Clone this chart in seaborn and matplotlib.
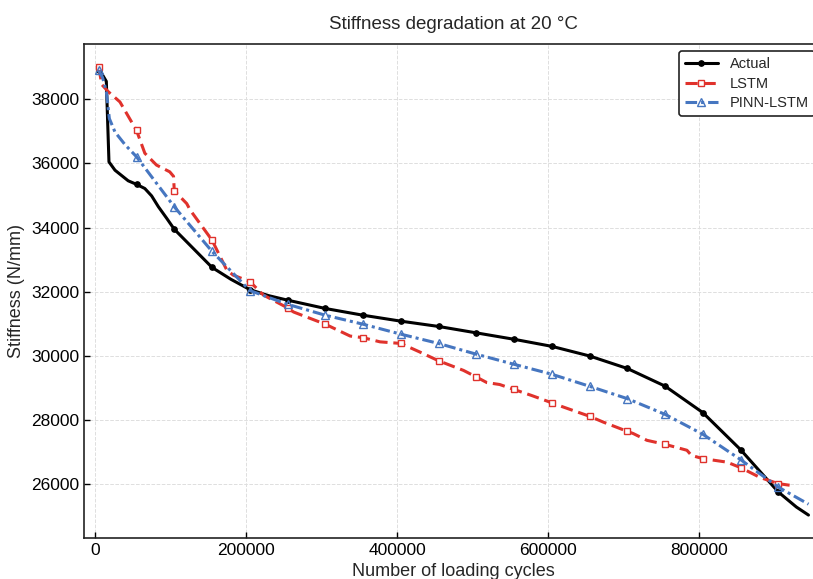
import numpy as np
import pandas as pd
import matplotlib
matplotlib.use("Agg")
import matplotlib.pyplot as plt
import seaborn as sns

# ---- data ----
x_actual = [5000, 10000, 15000, 18500, 26500, 44000, 55000, 66000, 75000, 84000,
            95000, 105000, 155000, 180000, 205000, 230000, 255000, 305000, 355000,
            405000, 455000, 505000, 555000, 605000, 655000, 705000, 755000, 805000,
            855000, 905000, 929000, 945000]
y_actual = [38900, 38760, 38560, 36050, 35790, 35460, 35350, 35220, 34990, 34650,
            34290, 33950, 32760, 32390, 32070, 31880, 31740, 31480, 31270,
            31085, 30920, 30720, 30520, 30300, 30000, 29610, 29060, 28235,
            27080, 25760, 25290, 25040]

x_lstm = [5000, 9000, 17500, 33000, 55000, 66000, 81500, 99000, 104000, 105000,
          121500, 126000, 155000, 174500, 183000, 205000, 223000, 255000, 263000,
          305000, 338000, 355000, 377500, 405000, 430000, 455000, 488000, 505000,
          519000, 536000, 555000, 578000, 605000, 620000, 655000, 673000, 705000,
          713000, 731000, 755000, 784000, 790000, 805000, 837000, 855000, 881000,
          905000, 920000]
y_lstm = [39000, 38460, 38240, 37920, 37030, 36320, 35950, 35740, 35600, 35150,
          34750, 34550, 33610, 32680, 32520, 32320, 31900, 31500, 31370,
          30990, 30620, 30570, 30440, 30390, 30125, 29850, 29550, 29345,
          29170, 29110, 28955, 28770, 28540, 28410, 28120, 27940, 27650,
          27580, 27370, 27245, 27060, 26900, 26800, 26690, 26520, 26210,
          26020, 25970]

x_pinn = [5000, 10000, 15000, 19000, 26500, 40000, 55000, 105000, 155000, 205000,
          255000, 305000, 355000, 405000, 455000, 505000, 555000, 605000, 655000,
          705000, 755000, 805000, 855000, 905000, 945000]
y_pinn = [38900, 38680, 38250, 37400, 36980, 36580, 36210, 34650, 33260, 32040,
          31610, 31270, 30990, 30680, 30390, 30055, 29740, 29430, 29055,
          28670, 28180, 27560, 26770, 25910, 25380]

marker_cycles = [5000 + 50000 * k for k in range(19)]

x_ticks = [0, 200000, 400000, 600000, 800000]
y_ticks = [26000, 28000, 30000, 32000, 34000, 36000, 38000]

# ---- style ----
sns.set_theme(style="white")
plt.rcParams["font.family"] = ["Liberation Sans", "DejaVu Sans"]

fig = plt.figure(figsize=(8.13, 5.79), dpi=100)
ax = fig.add_axes([84 / 813, (579 - 538) / 579, (822 - 84) / 813, (538 - 44) / 579])


def marks(xs):
    return [i for i, v in enumerate(xs) if v in marker_cycles]


series = [
    ("Actual", x_actual, y_actual, dict(color="#000000", linestyle="-", marker="o",
                                        markersize=4.0, markerfacecolor="#000000",
                                        markeredgecolor="#000000", markeredgewidth=0.8)),
    ("LSTM", x_lstm, y_lstm, dict(color="#e0322c", linestyle=(0, (4.0, 1.9)), marker="s",
                                  markersize=4.6, markerfacecolor="white",
                                  markeredgecolor="#e0322c", markeredgewidth=1.0)),
    ("PINN-LSTM", x_pinn, y_pinn, dict(color="#4676c0", linestyle=(0, (3.8, 1.3, 1.0, 1.3)),
                                       marker="^", markersize=5.2, markerfacecolor="none",
                                       markeredgecolor="#4676c0", markeredgewidth=1.0)),
]

for name, xs, ys, kw in series:
    df = pd.DataFrame({"cycles": xs, "stiffness": ys})
    sns.lineplot(data=df, x="cycles", y="stiffness", ax=ax, label=name,
                 estimator=None, errorbar=None, sort=False,
                 linewidth=2.2, markevery=marks(xs), **kw)

ax.set_xlim(-14570, 962900)
ax.set_ylim(24325, 39725)
ax.set_xticks(x_ticks)
ax.set_xticklabels([str(v) for v in x_ticks])
ax.set_yticks(y_ticks)
ax.set_yticklabels([str(v) for v in y_ticks])

ax.grid(True, color="#dedede", linestyle="--", linewidth=0.7)
ax.tick_params(axis="both", direction="in", length=4, width=1.0, labelsize=12.5,
               colors="#000000", top=False, right=False, bottom=True, left=True)
for s in ax.spines.values():
    s.set_color("#222222")
    s.set_linewidth(1.2)

ax.set_title("Stiffness degradation at 20 °C", fontsize=13.5, pad=11)
ax.set_xlabel("Number of loading cycles", fontsize=13, labelpad=4)
ax.set_ylabel("Stiffness (N/mm)", fontsize=13, labelpad=4)

leg = ax.legend(loc="upper right", fontsize=10.5, labelspacing=0.38, frameon=True,
                fancybox=True, framealpha=1, edgecolor="#222222", handlelength=2.3,
                handletextpad=0.8)
leg.get_frame().set_linewidth(1.2)

fig.savefig("out.png", dpi=100)
